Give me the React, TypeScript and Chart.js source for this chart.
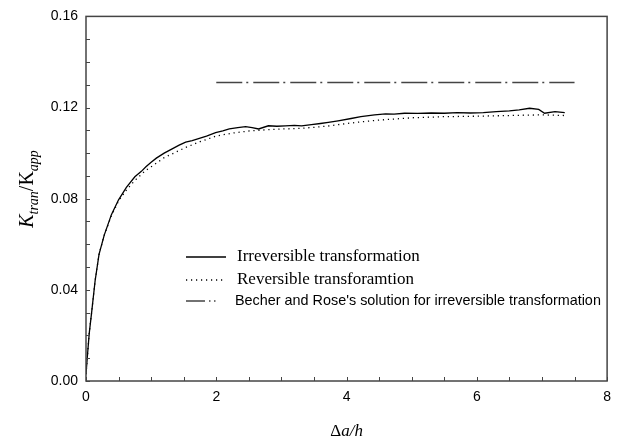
import React, { useEffect, useRef } from "react";
import { Chart, registerables } from "chart.js";

Chart.register(...registerables);

const irrevX = [0, 0.02, 0.05, 0.09, 0.14, 0.2, 0.28, 0.39, 0.5, 0.62, 0.75, 0.85, 0.92, 1.0, 1.08, 1.2, 1.33, 1.43, 1.53, 1.63, 1.74, 1.85, 1.99, 2.1, 2.2, 2.33, 2.45, 2.55, 2.65, 2.8, 2.93, 3.06, 3.2, 3.31, 3.46, 3.6, 3.72, 3.87, 4.07, 4.22, 4.43, 4.6, 4.73, 4.89, 5.09, 5.3, 5.5, 5.7, 5.9, 6.1, 6.3, 6.5, 6.65, 6.81, 6.95, 7.04, 7.2, 7.35];
const irrevY = [0.003, 0.0104, 0.021, 0.031, 0.044, 0.0556, 0.064, 0.073, 0.0795, 0.085, 0.0896, 0.092, 0.094, 0.096, 0.0978, 0.1, 0.102, 0.1035, 0.1048, 0.1055, 0.1065, 0.1075, 0.109, 0.1098, 0.1106, 0.1112, 0.1116, 0.1112, 0.1106, 0.112, 0.1118, 0.112, 0.1122, 0.112, 0.1125, 0.113, 0.1135, 0.1142, 0.1152, 0.116, 0.1168, 0.1172, 0.1171, 0.1175, 0.1174, 0.1176, 0.1175, 0.1178, 0.1176, 0.1178, 0.1182, 0.1185, 0.119, 0.1197, 0.1192, 0.1175, 0.1182, 0.1178];

const revX = [0, 0.02, 0.05, 0.09, 0.14, 0.2, 0.28, 0.39, 0.5, 0.62, 0.75, 0.92, 1.0, 1.2, 1.53, 1.75, 2.0, 2.25, 2.5, 2.75, 3.0, 3.25, 3.5, 3.75, 4.0, 4.25, 4.5, 4.75, 5.0, 5.5, 6.0, 6.5, 7.0, 7.35];
const revY = [0.003, 0.0104, 0.021, 0.031, 0.044, 0.0556, 0.064, 0.0725, 0.079, 0.0838, 0.088, 0.0925, 0.094, 0.098, 0.1025, 0.105, 0.1075, 0.1088, 0.1097, 0.1102, 0.1106, 0.1108, 0.1113, 0.112, 0.113, 0.1138, 0.1145, 0.115, 0.1155, 0.116, 0.1162, 0.1165, 0.1168, 0.1165];

const becherX = [2, 7.5];
const becherY = [0.131, 0.131];

const xTicks = [0, 2, 4, 6, 8];
const yTicks = [0, 0.04, 0.08, 0.12, 0.16];
const xMinorStep = 0.5;
const yMinorStep = 0.01;

const legendLabels = [
  "Irreversible transformation",
  "Reversible transforamtion",
  "Becher and Rose's solution for irreversible transformation",
];

const SERIF = "'Liberation Serif', 'Times New Roman', serif";
const SANS = "'Liberation Sans', Arial, sans-serif";

const decorPlugin = {
  id: "decor",
  afterDraw(chart: any) {
    const ctx = chart.ctx as CanvasRenderingContext2D;
    const { left, right, top, bottom } = chart.chartArea;
    const xs = chart.scales.x;
    const ys = chart.scales.y;
    ctx.save();
    // frame
    ctx.strokeStyle = "#444";
    ctx.lineWidth = 1.5;
    ctx.setLineDash([]);
    ctx.strokeRect(left, top, right - left, bottom - top);
    // inward ticks
    ctx.lineWidth = 1;
    ctx.beginPath();
    for (let v = 0; v <= 8 + 1e-9; v += xMinorStep) {
      const px = Math.round(xs.getPixelForValue(v)) + 0.5;
      ctx.moveTo(px, bottom);
      ctx.lineTo(px, bottom - 4);
    }
    for (let v = 0; v <= 0.16 + 1e-9; v += yMinorStep) {
      const py = Math.round(ys.getPixelForValue(v)) + 0.5;
      ctx.moveTo(left, py);
      ctx.lineTo(left + 4, py);
    }
    ctx.stroke();

    // x title
    ctx.fillStyle = "#000";
    ctx.textBaseline = "middle";
    ctx.textAlign = "left";
    const cx = (left + right) / 2;
    ctx.font = `17px ${SERIF}`;
    const wD = ctx.measureText("\u0394").width;
    ctx.font = `italic 17px ${SERIF}`;
    const wA = ctx.measureText("a/h").width;
    const sx = cx - (wD + wA) / 2;
    ctx.font = `17px ${SERIF}`;
    ctx.fillText("\u0394", sx, 432);
    ctx.font = `italic 17px ${SERIF}`;
    ctx.fillText("a/h", sx + wD, 432);

    // y title
    ctx.save();
    ctx.translate(26, 189);
    ctx.rotate(-Math.PI / 2);
    ctx.textBaseline = "alphabetic";
    const parts = [
      { t: "K", f: `italic 20px ${SERIF}`, dy: 0 },
      { t: "tran", f: `italic 14px ${SERIF}`, dy: 5 },
      { t: "/K", f: `20px ${SERIF}`, dy: 0 },
      { t: "app", f: `italic 14px ${SERIF}`, dy: 5 },
    ];
    let tw = 0;
    for (const p of parts) { ctx.font = p.f; tw += ctx.measureText(p.t).width; }
    let px0 = -tw / 2;
    for (const p of parts) {
      ctx.font = p.f;
      ctx.fillText(p.t, px0, 7 + p.dy);
      px0 += ctx.measureText(p.t).width;
    }
    ctx.restore();

    // legend
    const rows = [257, 280, 301];
    ctx.strokeStyle = "#000";
    ctx.lineWidth = 1.3;
    ctx.setLineDash([]);
    ctx.beginPath();
    ctx.moveTo(186, rows[0]);
    ctx.lineTo(226, rows[0]);
    ctx.stroke();
    ctx.setLineDash([1.2, 3.8]);
    ctx.beginPath();
    ctx.moveTo(186, rows[1]);
    ctx.lineTo(226, rows[1]);
    ctx.stroke();
    ctx.strokeStyle = "#444";
    ctx.lineWidth = 1.6;
    ctx.setLineDash([19, 4, 1.5, 3.5, 1.5, 30]);
    ctx.beginPath();
    ctx.moveTo(186, rows[2]);
    ctx.lineTo(226, rows[2]);
    ctx.stroke();
    ctx.setLineDash([]);
    ctx.fillStyle = "#000";
    ctx.textBaseline = "middle";
    ctx.font = `17px ${SERIF}`;
    ctx.fillText(legendLabels[0], 237, rows[0]);
    ctx.fillText(legendLabels[1], 237, rows[1]);
    ctx.font = `14.4px ${SANS}`;
    ctx.fillText(legendLabels[2], 235, rows[2]);
    ctx.restore();
  },
};

export default function App() {
  const ref = useRef<HTMLCanvasElement | null>(null);
  useEffect(() => {
    if (!ref.current) return;
    const chart = new Chart(ref.current, {
      type: "scatter",
      data: {
        datasets: [
          {
            label: legendLabels[0],
            data: irrevX.map((x, i) => ({ x, y: irrevY[i] })),
            showLine: true,
            borderColor: "#000",
            borderWidth: 1.3,
            pointRadius: 0,
            tension: 0,
          },
          {
            label: legendLabels[1],
            data: revX.map((x, i) => ({ x, y: revY[i] })),
            showLine: true,
            borderColor: "#000",
            borderWidth: 1.3,
            borderDash: [1.2, 3.8],
            pointRadius: 0,
            tension: 0,
          },
          {
            label: legendLabels[2],
            data: becherX.map((x, i) => ({ x, y: becherY[i] })),
            showLine: true,
            borderColor: "#444",
            borderWidth: 1.6,
            borderDash: [26, 4, 2, 5],
            pointRadius: 0,
            tension: 0,
          },
        ],
      },
      options: {
        animation: false,
        responsive: false,
        devicePixelRatio: 1,
        layout: { padding: { top: 13, right: 8, left: 0, bottom: 0 } },
        plugins: { legend: { display: false }, tooltip: { enabled: false } },
        scales: {
          x: {
            type: "linear",
            min: 0,
            max: 8,
            afterFit: (s: any) => { s.height = 61; },
            afterBuildTicks: (s: any) => { s.ticks = xTicks.map((v) => ({ value: v })); },
            ticks: {
              padding: 8,
              color: "#000",
              font: { family: SANS, size: 14 },
              callback: (v: any) => String(v),
              maxRotation: 0,
            },
            grid: { display: false, drawTicks: false },
            border: { display: false },
          },
          y: {
            type: "linear",
            min: 0,
            max: 0.16,
            afterFit: (s: any) => { s.width = 86; },
            afterBuildTicks: (s: any) => { s.ticks = yTicks.map((v) => ({ value: v })); },
            ticks: {
              padding: 8,
              color: "#000",
              font: { family: SANS, size: 14 },
              callback: (v: any) => Number(v).toFixed(2),
            },
            grid: { display: false, drawTicks: false },
            border: { display: false },
          },
        },
      },
      plugins: [decorPlugin],
    });
    return () => chart.destroy();
  }, []);
  return (
    <div style={{ position: "absolute", left: 0, top: 0, width: 619, height: 442, background: "#fff" }}>
      <canvas ref={ref} width={619} height={442} style={{ width: 619, height: 442, display: "block" }} />
    </div>
  );
}
